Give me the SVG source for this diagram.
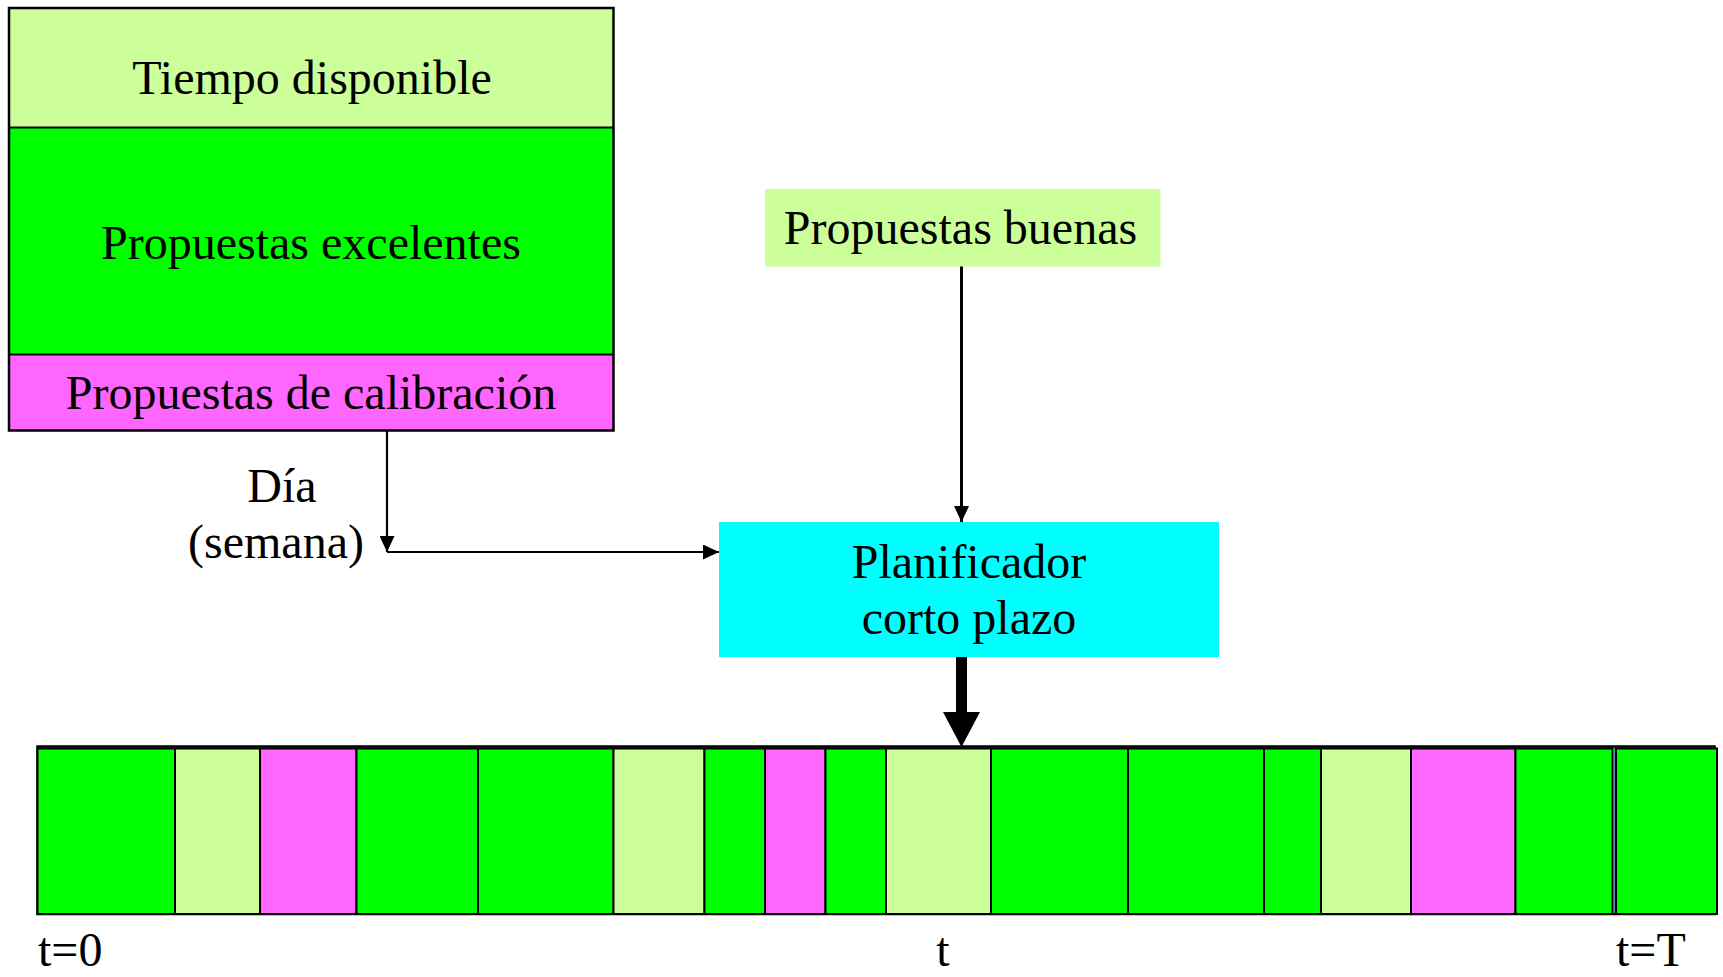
<svg xmlns="http://www.w3.org/2000/svg" width="1723" height="977" viewBox="0 0 1723 977">
  <style>
    .lbl { font-family: "Liberation Serif", "Times New Roman", serif; font-size: 48px; fill: #000; }
    .mid { text-anchor: middle; }
    .edge { stroke: #000; stroke-width: 2.2; fill: none; }
    .cell { stroke: #000; stroke-width: 2; }
    .avail { fill: #CCFF99; }
    .excel { fill: #00FF00; }
    .calib { fill: #FF66FF; }
    .sched { fill: #00FFFF; }
  </style>
  <defs>
    <marker id="head" markerUnits="userSpaceOnUse" markerWidth="16" markerHeight="15" refX="16" refY="7.5" orient="auto">
      <path d="M0,0 L16,7.5 L0,15 z" fill="#000"/>
    </marker>
  </defs>

  <rect width="1723" height="977" fill="#fff"/>

  <!-- Stacked pool of proposals -->
  <g id="pool">
    <rect class="avail" x="9" y="8" width="604.5" height="119.5"/>
    <rect class="excel" x="9" y="127.5" width="604.5" height="227"/>
    <rect class="calib" x="9" y="354.5" width="604.5" height="76"/>
    <rect x="9" y="8" width="604.5" height="422.5" fill="none" stroke="#000" stroke-width="2.5"/>
    <line x1="9" y1="127.5" x2="613.5" y2="127.5" stroke="#000" stroke-width="2"/>
    <line x1="9" y1="354.5" x2="613.5" y2="354.5" stroke="#000" stroke-width="2"/>
    <text class="lbl mid" x="312" y="94">Tiempo disponible</text>
    <text class="lbl mid" x="311" y="259">Propuestas excelentes</text>
    <text class="lbl mid" x="311" y="409">Propuestas de calibración</text>
  </g>

  <!-- Good proposals -->
  <g id="buenas">
    <rect class="avail" x="765" y="189" width="395.5" height="77.5"/>
    <text class="lbl mid" x="960.5" y="244">Propuestas buenas</text>
  </g>

  <!-- Short-term scheduler -->
  <g id="planificador">
    <rect class="sched" x="719" y="522" width="500" height="135"/>
    <text class="lbl mid" x="969" y="578">Planificador</text>
    <text class="lbl mid" x="969" y="634">corto plazo</text>
  </g>

  <!-- Cadence label -->
  <g id="cadencia">
    <text class="lbl mid" x="282" y="502">Día</text>
    <text class="lbl mid" x="276" y="558">(semana)</text>
  </g>

  <!-- Schedule timeline -->
  <g id="timeline">
    <rect x="37.5" y="746.5" width="1677" height="167.5" fill="#00FF00" stroke="#000" stroke-width="2.5"/>
    <rect class="cell excel" x="37.5" y="748.5" width="137.5" height="165.5"/>
    <rect class="cell avail" x="175" y="748.5" width="85" height="165.5"/>
    <rect class="cell calib" x="260" y="748.5" width="96.5" height="165.5"/>
    <rect class="cell excel" x="356.5" y="748.5" width="121.5" height="165.5"/>
    <rect class="cell excel" x="478" y="748.5" width="135.5" height="165.5"/>
    <rect class="cell avail" x="613.5" y="748.5" width="91" height="165.5"/>
    <rect class="cell excel" x="704.5" y="748.5" width="60.5" height="165.5"/>
    <rect class="cell calib" x="765" y="748.5" width="60.5" height="165.5"/>
    <rect class="cell excel" x="825.5" y="748.5" width="60.5" height="165.5"/>
    <rect class="cell avail" x="886" y="748.5" width="105" height="165.5"/>
    <rect class="cell excel" x="991" y="748.5" width="137" height="165.5"/>
    <rect class="cell excel" x="1128" y="748.5" width="136" height="165.5"/>
    <rect class="cell excel" x="1264" y="748.5" width="57" height="165.5"/>
    <rect class="cell avail" x="1321" y="748.5" width="90" height="165.5"/>
    <rect class="cell calib" x="1411" y="748.5" width="104.5" height="165.5"/>
    <rect class="cell excel" x="1515.5" y="748.5" width="97" height="165.5"/>
    <line x1="1614.2" y1="749" x2="1614.2" y2="913" stroke="#5A7FB0" stroke-width="1.5"/>
    <rect class="cell excel" x="1616" y="748.5" width="101" height="165.5"/>
    <text class="lbl" x="38" y="966">t=0</text>
    <text class="lbl mid" x="943" y="966">t</text>
    <text class="lbl" x="1616" y="966">t=T</text>
  </g>

  <!-- Connectors -->
  <g id="connectors">
    <path class="edge" d="M387,431 L387,552" marker-end="url(#head)"/>
    <path class="edge" d="M387,552 L719,552" marker-end="url(#head)"/>
    <path d="M961.5,266.5 L961.5,522" stroke="#000" stroke-width="3" fill="none" marker-end="url(#head)"/>
    <path d="M956,657 L967,657 L967,712 L980,712 L961.5,747 L943,712 L956,712 z" fill="#000"/>
  </g>
</svg>
